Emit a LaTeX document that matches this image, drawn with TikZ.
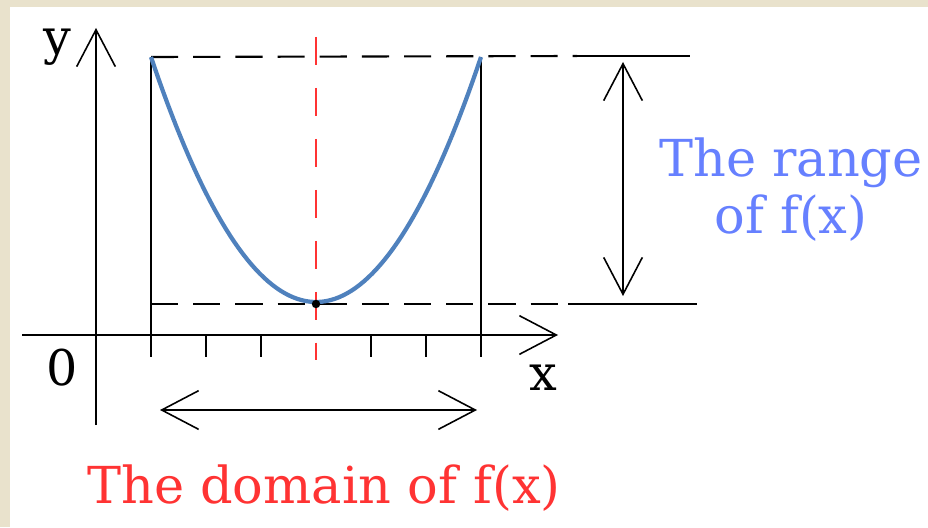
\documentclass[tikz,border=0pt]{standalone}
\usepackage{fontspec}
\setmainfont{DejaVu Serif}
\usepackage{tikz}
\usetikzlibrary{arrows.meta}
\definecolor{frame}{HTML}{E9E2CC}
\definecolor{curve}{HTML}{4F81BD}
\definecolor{domainred}{HTML}{FF3333}
\definecolor{rangeblue}{HTML}{6680FF}
\tikzset{
  barb/.tip={Straight Barb[length=21pt,width=22pt,line width=0.9pt]},
  axis/.style={draw=black, line width=1.2pt},
  guide/.style={draw=black, line width=1.2pt, dash pattern=on 15.5pt off 8.5pt},
  mid/.style={draw=domainred, line width=1.1pt, dash pattern=on 16pt off 13pt},
  graph/.style={draw=curve, line width=2.4pt},
  lbl/.style={font=\fontsize{28}{32.5}\selectfont, inner sep=0pt},
  tag/.style={lbl, font=\fontsize{29}{32.5}\selectfont}
}

\begin{document}
\begin{tikzpicture}[x=0.02cm, y=-0.02cm]
  % frame and size
  \fill[frame] (0,0) rectangle (928,527);
  \fill[white] (10,7) rectangle (928,527);
  \useasboundingbox (0,0) rectangle (928,527);

  % axes
  \coordinate (xl) at (22,335);  \coordinate (xr) at (558,335);
  \coordinate (yb) at (96,425);  \coordinate (yt) at (96,28);
  \draw[axis, -barb] (xl) -- (xr);
  \draw[axis, -barb] (yb) -- (yt);
  \foreach \i in {1,2,4,5}
    \draw[axis] (151+55*\i,335) -- ++(0,22);

  % bounds of the domain
  \coordinate (lt) at (151,57);  \coordinate (lb) at (151,357);
  \coordinate (rt) at (481,57);  \coordinate (rb) at (481,357);
  \draw[axis] (lt) -- (lb);
  \draw[axis] (rt) -- (rb);

  % bounds of the range
  \coordinate (top) at (577,56);  \coordinate (topr) at (690,56);
  \coordinate (low) at (568,304); \coordinate (lowr) at (697,304);
  \draw[guide] (lt) -- (top);
  \draw[guide] (151,304) -- (low);
  \draw[axis] (top) -- (topr);
  \draw[axis] (low) -- (lowr);

  % axis of symmetry, graph, vertex
  \draw[mid] (316,37) -- (316,360);
  \draw[graph] plot[domain=151:481, samples=80] (\x, {302-245*((\x-316)/165)^2});
  \coordinate (vertex) at (316,304);
  \fill (vertex) circle (2.4pt);

  % arrows
  \coordinate (ra) at (623,62);  \coordinate (rz) at (623,296);
  \draw[axis, barb-barb] (ra) -- (rz);
  \coordinate (da) at (160,410); \coordinate (dz) at (477,410);
  \draw[axis, barb-barb] (da) -- (dz);

  % labels
  \node[lbl] (ylabel) at (57,47) {y};
  \node[lbl] (origin) at (62,368) {0};
  \node[lbl] (xlabel) at (543,378) {x};
  \node[tag, text=rangeblue, align=center] (rangelabel) at (791,190) {The range\\of f(x)};
  \node[tag, text=domainred, anchor=base] (domainlabel) at (324,503) {The domain of f(x)};
\end{tikzpicture}
\end{document}
